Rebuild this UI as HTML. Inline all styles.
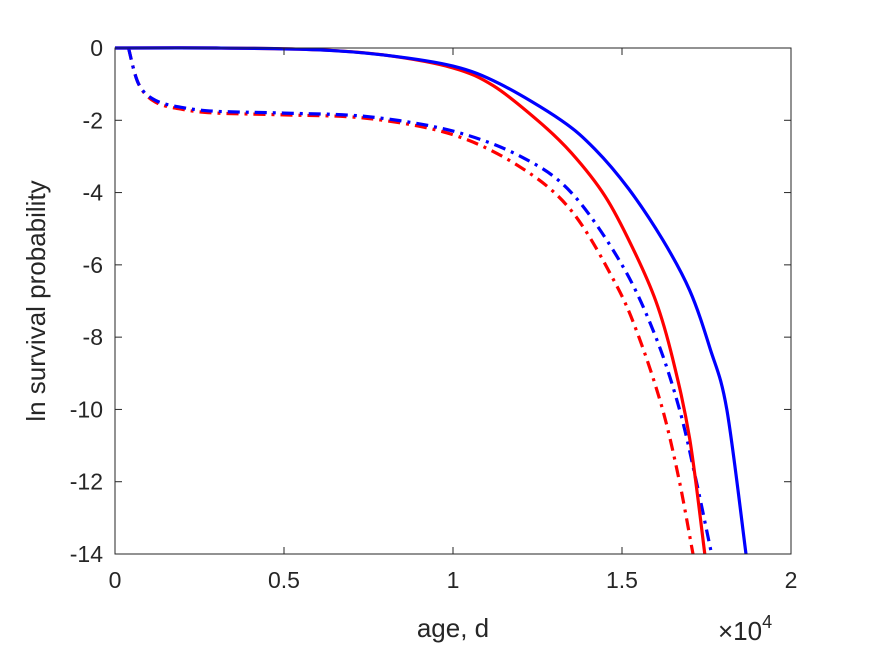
<!DOCTYPE html>
<html><head><meta charset="utf-8"><style>
body{margin:0;background:#fff;}
svg text{font-family:"Liberation Sans",Arial,sans-serif;fill:#262626;}
</style></head><body>
<svg id="chart" width="875" height="656" xmlns="http://www.w3.org/2000/svg">
<rect width="875" height="656" fill="#fff"/>
<g id="plot"></g>
<g id="axes"></g>
</svg>
<script>
const xTicks=[0,0.5,1,1.5,2];
const yTicks=[0,-2,-4,-6,-8,-10,-12,-14];
const blueSolidX=[0,0.3,0.6,0.8,1.0,1.14,1.32,1.42,1.52,1.62,1.7,1.76,1.81,1.867];
const blueSolidY=[0,0,-0.05,-0.2,-0.5,-1.0,-2.0,-2.8,-3.9,-5.3,-6.7,-8.3,-10.0,-14];
const redSolidX=[0,0.3,0.6,0.8,1.0,1.12,1.25,1.35,1.45,1.53,1.6,1.65,1.7,1.745];
const redSolidY=[0,0,-0.05,-0.2,-0.55,-1.05,-2.0,-2.9,-4.1,-5.5,-7.0,-8.6,-10.8,-14];
const blueDashX=[0.04,0.07,0.12,0.2,0.3,0.5,0.75,1.0,1.2,1.35,1.5,1.6,1.67,1.72,1.765];
const blueDashY=[0,-1.0,-1.45,-1.65,-1.75,-1.8,-1.9,-2.3,-3.0,-4.0,-6.0,-8.0,-10.0,-12.0,-14];
const redDashX=[0.04,0.07,0.12,0.2,0.3,0.5,0.75,1.0,1.2,1.35,1.48,1.55,1.62,1.67,1.71];
const redDashY=[0,-1.0,-1.5,-1.7,-1.8,-1.85,-1.95,-2.4,-3.3,-4.5,-6.5,-8.0,-10.0,-12.0,-14];
const L=115,R=791,T=48,B=554;
const xs=v=>L+(v-0)/(2-0)*(R-L);
const ys=v=>T+(0-v)/(14)*(B-T);
const NS="http://www.w3.org/2000/svg";
const plot=document.getElementById('plot'),axes=document.getElementById('axes');
function mk(tag,attrs,parent){const e=document.createElementNS(NS,tag);for(const k in attrs)e.setAttribute(k,attrs[k]);parent.appendChild(e);return e;}
function series(xa,ya,color,dash,name){
  const P=xa.map((x,i)=>[xs(x),ys(ya[i])]);
  let d='M'+P[0][0].toFixed(1)+','+P[0][1].toFixed(1);
  for(let i=0;i<P.length-1;i++){
    const p0=P[Math.max(0,i-1)],p1=P[i],p2=P[i+1],p3=P[Math.min(P.length-1,i+2)];
    const c1=[p1[0]+(p2[0]-p0[0])/6,p1[1]+(p2[1]-p0[1])/6];
    const c2=[p2[0]-(p3[0]-p1[0])/6,p2[1]-(p3[1]-p1[1])/6];
    d+=' C'+c1.map(v=>v.toFixed(1)).join(',')+' '+c2.map(v=>v.toFixed(1)).join(',')+' '+p2[0].toFixed(1)+','+p2[1].toFixed(1);
  }
  const p=mk('path',{d:d,fill:'none',stroke:color,'stroke-width':3.2,'stroke-linejoin':'round'},plot);
  if(dash)p.setAttribute('stroke-dasharray',dash);
  
  
}
series(redDashX,redDashY,'#ff0000','12,6,3,6','red-dashdot-line');
series(blueDashX,blueDashY,'#0000ff','12,6,3,6','blue-dashdot-line');
series(redSolidX,redSolidY,'#ff0000',null,'red-solid-line');
series(blueSolidX,blueSolidY,'#0000ff',null,'blue-solid-line');
const box=mk('rect',{x:L,y:T,width:R-L,height:B-T,fill:'none',stroke:'#262626','stroke-width':1},axes);


xTicks.forEach(v=>{
  const x=xs(v);
  mk('line',{x1:x,y1:B,x2:x,y2:B-7,stroke:'#262626'},axes);
  mk('line',{x1:x,y1:T,x2:x,y2:T+7,stroke:'#262626'},axes);
  const t=mk('text',{x:x,y:B+34,'text-anchor':'middle','font-size':23},axes);
  t.textContent=String(v);
  
  
});
yTicks.forEach(v=>{
  const y=ys(v);
  mk('line',{x1:L,y1:y,x2:L+7,y2:y,stroke:'#262626'},axes);
  mk('line',{x1:R,y1:y,x2:R-7,y2:y,stroke:'#262626'},axes);
  const t=mk('text',{x:L-12,y:y+8,'text-anchor':'end','font-size':23},axes);
  t.textContent=String(v);
  
  
});
const xl=mk('text',{x:453,y:637,'text-anchor':'middle','font-size':26},axes);
xl.textContent='age, d';


const yl=mk('text',{x:0,y:0,'text-anchor':'middle','font-size':26,transform:'translate(45,301) rotate(-90)'},axes);
yl.textContent='ln survival probability';


const ex=mk('text',{x:718,y:640,'font-size':26},axes);
ex.innerHTML='×10<tspan dy="-12" font-size="18">4</tspan>';


</script>
</body></html>
